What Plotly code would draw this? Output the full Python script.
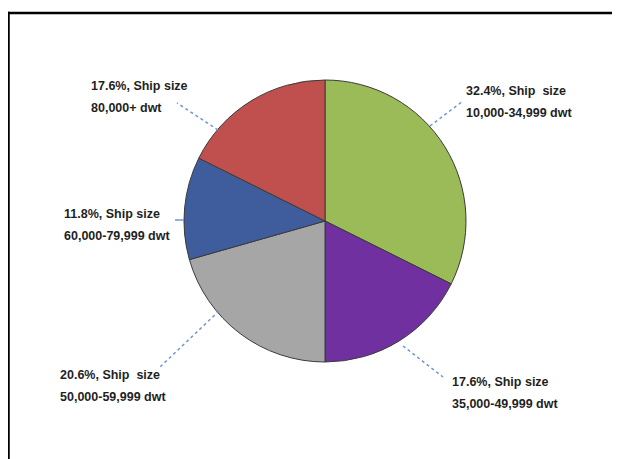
import plotly.graph_objects as go

# ---- data ----
categories = ["10,000-34,999 dwt", "35,000-49,999 dwt", "50,000-59,999 dwt",
              "60,000-79,999 dwt", "80,000+ dwt"]
values = [11, 6, 7, 4, 6]
pct_labels = ["32.4%, Ship  size", "17.6%, Ship size", "20.6%, Ship  size",
              "11.8%, Ship size", "17.6%, Ship size"]
colors = ["#9BBB59", "#7030A0", "#A6A6A6", "#3F5D9C", "#C0504D"]

OFF = 8  # page body margin offset
W, H = 620 - OFF, 459 - OFF
def px(x):
    return (x - OFF) / W
def py(y):
    return 1 - (y - OFF) / H

# pie geometry (screen pixels)
cx, cy, r = 325, 221, 141

fig = go.Figure(go.Pie(
    labels=categories, values=values, sort=False, direction="clockwise",
    rotation=0, textinfo="none", hoverinfo="label+percent",
    marker=dict(colors=colors, line=dict(color="#3a3a3a", width=1)),
    domain=dict(x=[px(cx - r), px(cx + r)], y=[py(cy + r), py(cy - r)]),
))

# label placement (screen pixels): left x, first-line y center
label_pos = [(464, 91), (450, 382), (58, 375), (62, 214), (89, 86)]
leaders = [((430, 126), (463, 101), "dot"),
           ((403, 346), (443, 377), "dot"),
           ((219, 311), (160, 367), "dot"),
           ((184, 220), (167, 220), "dash"),
           ((218, 130), (177, 103), "dot")]

annotations = []
for (lx, ly), t1, t2 in zip(label_pos, pct_labels, categories):
    for text, yy in ((t1, ly), (t2, ly + 22)):
        annotations.append(dict(
            x=px(lx), y=py(yy), xref="paper", yref="paper",
            xanchor="left", yanchor="middle", showarrow=False,
            text="<b>" + text.replace("  ", "&nbsp; ") + "</b>",
            font=dict(family="Liberation Sans, Arial", size=12.5, color="#1f1f1f"),
        ))

shapes = []
for (x0, y0), (x1, y1), dash in leaders:
    shapes.append(dict(type="line", xref="paper", yref="paper",
                       x0=px(x0), y0=py(y0), x1=px(x1), y1=py(y1),
                       line=dict(color="#7396cf", width=1.5, dash=dash)))
# frame border (left and top)
frame = dict(color="black", width=2.5)
shapes.append(dict(type="line", xref="paper", yref="paper",
                   x0=px(8.5), y0=py(459), x1=px(8.5), y1=py(11.75), line=frame))
shapes.append(dict(type="line", xref="paper", yref="paper",
                   x0=px(7.25), y0=py(13), x1=px(660), y1=py(13), line=frame))

fig.update_layout(
    width=W, height=H, margin=dict(l=0, r=0, t=0, b=0),
    paper_bgcolor="white", plot_bgcolor="white", showlegend=False,
    annotations=annotations, shapes=shapes,
)
fig.write_html("out.html", config={"displayModeBar": False},
               post_script="document.documentElement.style.overflow='hidden';")
